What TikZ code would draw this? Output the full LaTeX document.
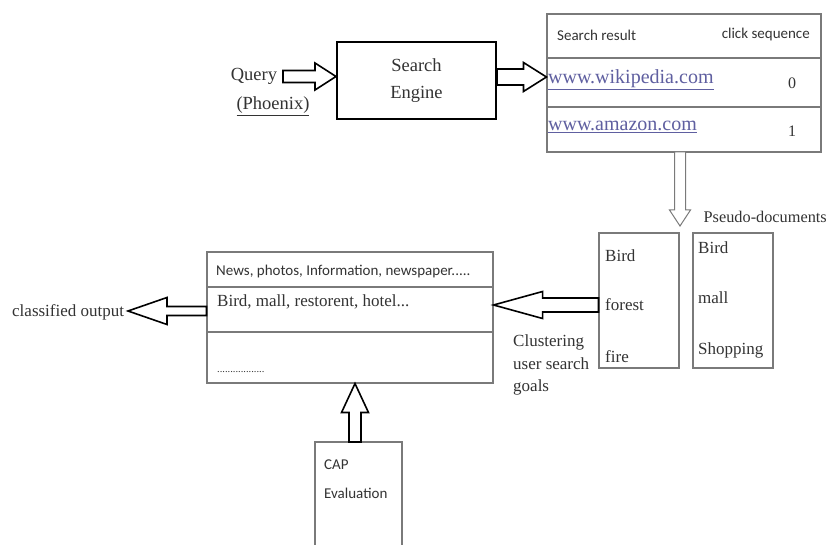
\documentclass[tikz,border=0pt]{standalone}
\usepackage{fontspec}
\setmainfont{Liberation Serif}
\newfontfamily\calib{Carlito}
\usetikzlibrary{calc}
\definecolor{txt}{HTML}{333333}
\definecolor{lgray}{HTML}{7A7A7A}
\definecolor{linkc}{HTML}{5F5FA0}
\tikzset{
  cell/.style={draw=lgray, line width=1.1pt, inner sep=0pt},
  lbl/.style={inner sep=0pt, text=txt, font=\fontsize{17}{22.5}\selectfont},
  sml/.style={inner sep=0pt, text=txt, font=\calib\fontsize{15}{18}\selectfont},
  barr/.style={draw=black, fill=white, line width=1.6pt, line join=miter},
  garr/.style={draw=lgray, fill=white, line width=1pt, line join=miter},
}
% #1 style, #2 from, #3 to, #4 shaft half width, #5 head half width, #6 head length
\newcommand\blockarr[6][barr]{%
  \coordinate (bh) at ($(#3)!#6!(#2)$);
  \draw[#1] ($(#2)!#4!90:(#3)$) -- ($(bh)!#4!-90:(#2)$) -- ($(bh)!#5!-90:(#2)$)
    -- (#3) -- ($(bh)!#5!90:(#2)$) -- ($(bh)!#4!90:(#2)$) -- ($(#2)!#4!-90:(#3)$) -- cycle;
}
\begin{document}
\begin{tikzpicture}[x=1pt,y=-1pt]
\useasboundingbox[fill=white] (0,0) rectangle (828,545);

% Search engine
\node[draw=black, line width=2pt, minimum width=159pt, minimum height=77pt, inner sep=0pt,
      align=center, text=txt, font=\fontsize{18.5}{27}\selectfont] (se) at (416.5,80.5) {Search\\Engine};
\node[lbl, font=\fontsize{18.5}{22}\selectfont] (query) at (254,76) {Query};
\node[lbl, font=\fontsize{18.5}{22}\selectfont] (phx) at (273,106) {\underline{(Phoenix)}};

% Table
\node[cell, minimum width=274pt, minimum height=44pt] (r0) at (684,36) {};
\node[cell, minimum width=274pt, minimum height=49pt] (r1) at (684,82.5) {};
\node[cell, minimum width=274pt, minimum height=45pt] (r2) at (684,129.5) {};
\node[sml, anchor=west] (hsr) at (557,35) {Search result};
\node[sml, anchor=east] (hcs) at (810,35) {click sequence};
\node[lbl, anchor=west, text=linkc, font=\fontsize{20}{24}\selectfont] (wiki) at (548,80) {\underline{www.wikipedia.com}};
\node[lbl, font=\fontsize{16}{20}\selectfont] (n0) at (792,83) {0};
\node[lbl, anchor=west, text=linkc, font=\fontsize{20}{24}\selectfont] (amz) at (548,127) {\underline{www.amazon.com}};
\node[lbl, font=\fontsize{16}{20}\selectfont] (n1) at (792,131) {1};

% Pseudo documents
\node[lbl, anchor=east, font=\fontsize{16.3}{20}\selectfont] (pseudo) at (827,217) {Pseudo-documents};
\node[cell, minimum width=80pt, minimum height=135pt] (pa) at (639,300.5) {};
\node[cell, minimum width=80pt, minimum height=135pt] (pb) at (733,300.5) {};
\node[lbl, anchor=west] (pa1) at (605,256) {Bird};
\node[lbl, anchor=west] (pa2) at (605,305) {forest};
\node[lbl, anchor=west] (pa3) at (605,357) {fire};
\node[lbl, anchor=west] (pb1) at (698,248) {Bird};
\node[lbl, anchor=west] (pb2) at (698,298) {mall};
\node[lbl, anchor=west] (pb3) at (698,350) {Shopping};

% Big box
\node[cell, minimum width=286pt, minimum height=35pt] (b1) at (350,269.5) {};
\node[cell, minimum width=286pt, minimum height=45pt] (b2) at (350,309.5) {};
\node[cell, minimum width=286pt, minimum height=51pt] (b3) at (350,357.5) {};
\node[sml, anchor=west] (news) at (216,272) {News, photos, Information, newspaper.....};
\node[lbl, anchor=west] (bmr) at (217,302) {Bird, mall, restorent, hotel...};
\node[lbl, anchor=west, font=\fontsize{10.5}{12}\selectfont] (dots) at (217,372) {..................};

\node[lbl, anchor=west] (cls) at (12,312) {classified output};
\node[lbl, anchor=west, align=left] (clu) at (513,365) {Clustering\\user search\\goals};

% CAP box
\node[cell, minimum width=87pt, minimum height=118pt] (cap) at (358.5,501) {};
\node[sml, anchor=west] (cap1) at (324,465) {CAP};
\node[sml, anchor=west] (cap2) at (324,493) {Evaluation};

% Arrows
\coordinate (a1s) at (283,76.5);
\coordinate (a1t) at (a1s -| se.west);
\blockarr{a1s}{a1t}{6pt}{13.5pt}{21pt}

\coordinate (a2s) at (se.east |- 0,77);
\coordinate (a2t) at (a2s -| r1.west);
\blockarr{a2s}{a2t}{8pt}{14.5pt}{23pt}

\coordinate (a3s) at (680,152);
\coordinate (a3t) at (680,226);
\blockarr[garr]{a3s}{a3t}{5.5pt}{10.5pt}{16pt}

\coordinate (a4s) at (pa.west |- 0,305);
\coordinate (a4t) at (b2.east |- 0,305);
\blockarr{a4s}{a4t}{7pt}{13.5pt}{49pt}

\coordinate (a5s) at (b2.west |- 0,311);
\coordinate (a5t) at (128,311);
\blockarr{a5s}{a5t}{4.5pt}{13.5pt}{39pt}

\coordinate (a6s) at (355,442);
\coordinate (a6t) at (a6s |- b3.south);
\blockarr{a6s}{a6t}{6pt}{13.5pt}{29pt}
\end{tikzpicture}
\end{document}
